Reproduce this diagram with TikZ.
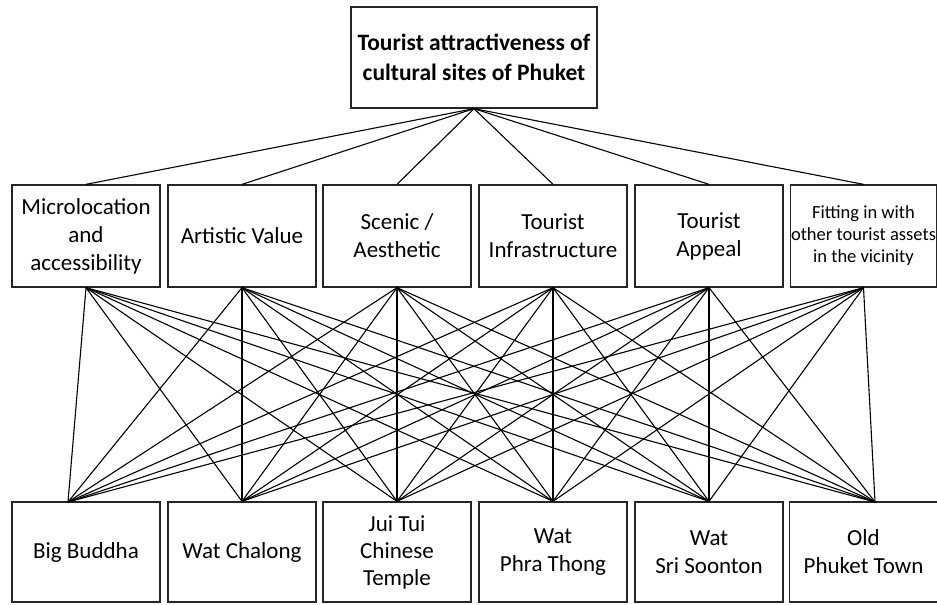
\documentclass[tikz,border=0pt]{standalone}
\usepackage{fontspec}
\setmainfont{Carlito}
\begin{document}
\begin{tikzpicture}[x=1pt,y=1pt]
      \tikzstyle{every node}=[draw=black!85,line width=1.3pt,align=center,inner sep=0pt,
        minimum width=148pt,minimum height=102pt,font=\fontsize{23}{28}\selectfont]
      \tikzstyle{link}=[line width=1.1pt,black]
      \useasboundingbox (0,0) rectangle (937,-605);

      \node[minimum width=246pt,minimum height=101pt,font=\bfseries\fontsize{23.5}{30}\selectfont]
        (goal) at (474,-57.5) {Tourist attractiveness of\\cultural sites of Phuket};

      \node (m1) at (86,-236) {Microlocation\\and\\accessibility};
      \node (m2) at (242,-236) {Artistic Value};
      \node (m3) at (397,-236) {Scenic /\\Aesthetic};
      \node (m4) at (553,-236) {Tourist\\Infrastructure};
      \node (m5) at (709,-236) {Tourist\\Appeal};
      \node[minimum width=146pt,font=\fontsize{18.5}{22}\selectfont] (m6) at (863.5,-236)
        {Fitting in with\\\makebox[0pt]{other tourist assets}\\in the vicinity};

      \node[minimum height=100pt] (b1) at (86,-552) {Big Buddha};
      \node[minimum height=100pt] (b2) at (242,-552) {Wat Chalong};
      \node[minimum height=100pt,font=\fontsize{23}{27}\selectfont] (b3) at (397,-552)
        {Jui Tui\\Chinese\\Temple};
      \node[minimum height=100pt] (b4) at (553,-552) {Wat\\Phra Thong};
      \node[minimum height=100pt] (b5) at (709,-552) {Wat\\Sri Soonton};
      \node[minimum height=100pt] (b6) at (863.5,-552) {Old\\Phuket Town};

      % where the fans meet the site boxes
      \coordinate (t1) at (68,-502);
      \coordinate (t2) at (b2.north);
      \coordinate (t3) at (b3.north);
      \coordinate (t4) at (b4.north);
      \coordinate (t5) at (b5.north);
      \coordinate (t6) at (875,-502);

      \foreach \i in {1,...,6}
        \draw[link] (goal.south) -- (m\i.north);
      \foreach \i in {1,...,6}
        \foreach \j in {1,...,6}
          \draw[link] (m\i.south) -- (t\j);
    \end{tikzpicture}
\end{document}
